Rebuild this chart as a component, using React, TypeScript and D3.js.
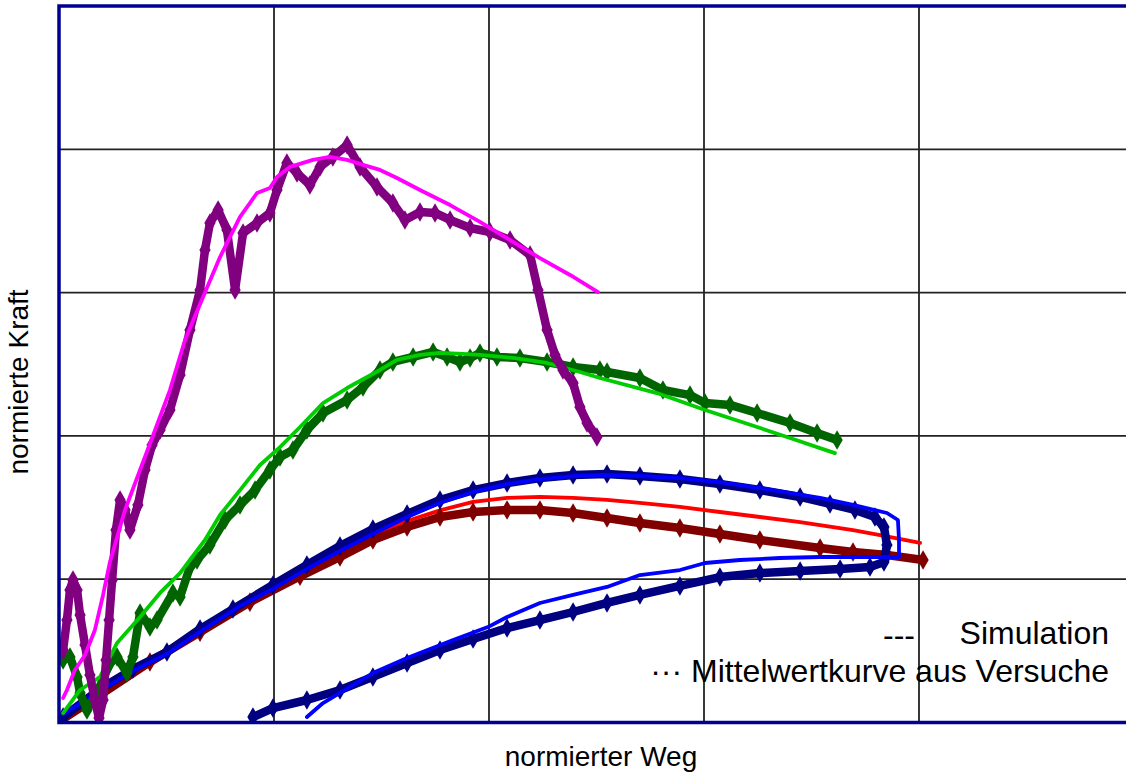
import { useEffect, useRef } from 'react';
import * as d3 from 'd3';

type Pt = [number, number];

// axis extent (normalized units, no tick labels shown)
const xDomain: [number, number] = [0, 5];
const yDomain: [number, number] = [0, 5];
const gridValues = [0, 1, 2, 3, 4, 5];

const xLabel = 'normierter Weg';
const yLabel = 'normierte Kraft';
const legendSim = 'Simulation';
const legendExp = '··· Mittelwertkurve aus Versuche';

// --- Versuch (Mittelwertkurven) ---
const expPurple: Pt[] = [
    [0.019, 0.506], [0.037, 0.715], [0.051, 0.925], [0.065, 0.994], [0.084, 0.925], [0.098, 0.75],
    [0.121, 0.541], [0.144, 0.331], [0.167, 0.157], [0.186, 0.031], [0.205, 0.157], [0.219, 0.436],
    [0.233, 0.715], [0.247, 0.994], [0.265, 1.343], [0.284, 1.553], [0.307, 1.483], [0.33, 1.343],
    [0.367, 1.518], [0.4, 1.762], [0.433, 1.937], [0.47, 2.041], [0.516, 2.181], [0.563, 2.425],
    [0.609, 2.739], [0.656, 3.018], [0.679, 3.297], [0.702, 3.486], [0.74, 3.576], [0.781, 3.437],
    [0.819, 3.018], [0.856, 3.416], [0.921, 3.486], [0.981, 3.556], [1.014, 3.716], [1.06, 3.904],
    [1.107, 3.834], [1.167, 3.751], [1.214, 3.877], [1.274, 3.947], [1.34, 4.03], [1.4, 3.877],
    [1.479, 3.737], [1.553, 3.625], [1.609, 3.507], [1.679, 3.562], [1.749, 3.556], [1.819, 3.507],
    [1.912, 3.451], [2.005, 3.423], [2.098, 3.367], [2.191, 3.262], [2.228, 3.018], [2.27, 2.739],
    [2.307, 2.564], [2.344, 2.46], [2.391, 2.369], [2.423, 2.202], [2.456, 2.09], [2.502, 1.992],
];

const expGreen: Pt[] = [
    [0.019, 0.436], [0.051, 0.457], [0.084, 0.318], [0.098, 0.206], [0.13, 0.087], [0.177, 0.206],
    [0.237, 0.415], [0.27, 0.457], [0.316, 0.345], [0.344, 0.457], [0.377, 0.764], [0.423, 0.666],
    [0.456, 0.715], [0.53, 0.904], [0.563, 0.876], [0.609, 1.085], [0.642, 1.134], [0.702, 1.239],
    [0.772, 1.413], [0.842, 1.518], [0.912, 1.622], [0.981, 1.762], [1.028, 1.853], [1.088, 1.902],
    [1.153, 2.041], [1.228, 2.16], [1.34, 2.25], [1.414, 2.341], [1.493, 2.46], [1.553, 2.516],
    [1.647, 2.551], [1.74, 2.586], [1.805, 2.551], [1.865, 2.516], [1.912, 2.544], [1.958, 2.579],
    [2.037, 2.551], [2.144, 2.544], [2.27, 2.516], [2.391, 2.481], [2.516, 2.46], [2.549, 2.446],
    [2.702, 2.404], [2.809, 2.32], [2.935, 2.285], [3.005, 2.23], [3.121, 2.216], [3.247, 2.16],
    [3.4, 2.09], [3.526, 2.02], [3.619, 1.971],
];

const expDarkRed: Pt[] = [
    [0.019, 0.024], [0.191, 0.192], [0.423, 0.422], [0.656, 0.63], [0.888, 0.84], [1.121, 1.02],
    [1.307, 1.155], [1.46, 1.274], [1.619, 1.364], [1.772, 1.434], [1.926, 1.469], [2.084, 1.483],
    [2.237, 1.483], [2.391, 1.462], [2.549, 1.427], [2.702, 1.392], [2.888, 1.357], [3.074, 1.315],
    [3.26, 1.274], [3.54, 1.218], [3.693, 1.19], [3.851, 1.169], [4.019, 1.134],
];

const expNavy: Pt[] = [
    [0.019, 0.038], [0.191, 0.234], [0.344, 0.373], [0.502, 0.492], [0.656, 0.652], [0.809, 0.792],
    [0.995, 0.96], [1.153, 1.099], [1.307, 1.232], [1.46, 1.35], [1.619, 1.455], [1.772, 1.553],
    [1.926, 1.622], [2.084, 1.671], [2.237, 1.706], [2.391, 1.727], [2.549, 1.734], [2.702, 1.72],
    [2.888, 1.699], [3.074, 1.664], [3.26, 1.622], [3.447, 1.574], [3.586, 1.525], [3.702, 1.483],
    [3.795, 1.434], [3.837, 1.364], [3.851, 1.239], [3.837, 1.12], [3.772, 1.085], [3.633, 1.071],
    [3.447, 1.057], [3.26, 1.043], [3.074, 1.015], [2.888, 0.953], [2.702, 0.89], [2.549, 0.834],
    [2.391, 0.771], [2.237, 0.715], [2.084, 0.659], [1.926, 0.583], [1.772, 0.506], [1.619, 0.415],
    [1.46, 0.318], [1.307, 0.227], [1.153, 0.157], [0.995, 0.101], [0.902, 0.038],
];

// --- Simulation ---
const simMagenta: Pt[] = [
    [0.019, 0.171], [0.037, 0.227], [0.074, 0.366], [0.121, 0.471], [0.167, 0.646], [0.205, 0.89],
    [0.237, 1.12], [0.307, 1.483], [0.377, 1.762], [0.447, 2.041], [0.516, 2.32], [0.586, 2.669],
    [0.67, 2.969], [0.749, 3.248], [0.842, 3.528], [0.921, 3.695], [0.981, 3.73], [1.014, 3.807],
    [1.074, 3.877], [1.181, 3.926], [1.26, 3.947], [1.34, 3.926], [1.414, 3.891], [1.493, 3.856],
    [1.572, 3.8], [1.679, 3.716], [1.819, 3.611], [1.958, 3.493], [2.098, 3.367], [2.237, 3.241],
    [2.377, 3.123], [2.507, 3.004],
];

const simGreen: Pt[] = [
    [0.019, 0.066], [0.098, 0.227], [0.191, 0.318], [0.27, 0.555], [0.377, 0.736], [0.47, 0.904],
    [0.563, 1.043], [0.609, 1.134], [0.679, 1.274], [0.749, 1.448], [0.842, 1.622], [0.935, 1.797],
    [1.028, 1.922], [1.121, 2.062], [1.228, 2.229], [1.34, 2.334], [1.493, 2.46], [1.572, 2.53],
    [1.679, 2.565], [1.772, 2.579], [1.879, 2.572], [1.958, 2.565], [2.112, 2.544], [2.27, 2.509],
    [2.423, 2.446], [2.516, 2.404], [2.781, 2.299], [3.005, 2.181], [3.247, 2.062], [3.4, 1.985],
    [3.609, 1.88],
];

const simRed: Pt[] = [
    [0.019, 0.04], [0.191, 0.225], [0.423, 0.44], [0.656, 0.64], [0.888, 0.85], [1.121, 1.06],
    [1.353, 1.24], [1.586, 1.39], [1.772, 1.48], [1.926, 1.539], [2.084, 1.567], [2.237, 1.574],
    [2.391, 1.567], [2.549, 1.553], [2.702, 1.532], [2.888, 1.504], [3.074, 1.469], [3.26, 1.434],
    [3.447, 1.399], [3.693, 1.343], [3.819, 1.308], [4.005, 1.253],
];

const simBlue: Pt[] = [
    [0.019, 0.059], [0.191, 0.22], [0.344, 0.359], [0.502, 0.478], [0.656, 0.632], [0.842, 0.813],
    [0.995, 0.932], [1.153, 1.071], [1.307, 1.197], [1.46, 1.315], [1.619, 1.434], [1.772, 1.532],
    [1.926, 1.609], [2.084, 1.664], [2.237, 1.699], [2.391, 1.72], [2.549, 1.727], [2.702, 1.72],
    [2.888, 1.706], [3.074, 1.678], [3.26, 1.636], [3.54, 1.567], [3.693, 1.518], [3.851, 1.462],
    [3.902, 1.413], [3.907, 1.274], [3.907, 1.155], [3.851, 1.155], [3.693, 1.155], [3.54, 1.155],
    [3.353, 1.148], [3.167, 1.134], [3.005, 1.113], [2.888, 1.064], [2.702, 1.029], [2.549, 0.946],
    [2.391, 0.89], [2.237, 0.834], [2.084, 0.736], [1.995, 0.666], [1.833, 0.576], [1.619, 0.45],
    [1.46, 0.345], [1.307, 0.206], [1.228, 0.136], [1.153, 0.038],
];

// drawing order: back to front
const series = [
    { data: simRed, color: '#FF0000', exp: false },
    { data: expDarkRed, color: '#800000', exp: true },
    { data: expNavy, color: '#000080', exp: true },
    { data: simBlue, color: '#0000FF', exp: false },
    { data: expGreen, color: '#006400', exp: true },
    { data: simGreen, color: '#00CC00', exp: false },
    { data: expPurple, color: '#800080', exp: true },
    { data: simMagenta, color: '#FF00FF', exp: false },
];

const W = 1126;
const H = 773;
const FONT = "'Liberation Sans', Arial, sans-serif";

export default function App() {
    const svgRef = useRef<SVGSVGElement>(null);

    useEffect(() => {
        if (!svgRef.current) return;
        const svg = d3.select(svgRef.current);
        svg.selectAll('*').remove();

        const x = d3.scaleLinear().domain(xDomain).range([59, 1134]);
        const y = d3.scaleLinear().domain(yDomain).range([722.5, 6]);

        svg.append('defs').append('clipPath').attr('id', 'plot-clip')
            .append('rect')
            .attr('x', x(0)).attr('y', y(5))
            .attr('width', x(5) - x(0)).attr('height', y(0) - y(5));

        // grid
        const grid = svg.append('g');
        gridValues.slice(1, -1).forEach(v => {
            grid.append('line')
                .attr('x1', x(v)).attr('x2', x(v))
                .attr('y1', y(0)).attr('y2', y(5))
                .attr('stroke', '#222').attr('stroke-width', 1.8);
            grid.append('line')
                .attr('x1', x(0)).attr('x2', x(5))
                .attr('y1', y(v)).attr('y2', y(v))
                .attr('stroke', '#222').attr('stroke-width', 1.8);
        });

        const line = d3.line<Pt>().x(d => x(d[0])).y(d => y(d[1]));
        const plot = svg.append('g').attr('clip-path', 'url(#plot-clip)');

        series.forEach(s => {
            plot.append('path')
                .datum(s.data)
                .attr('d', line)
                .attr('fill', 'none')
                .attr('stroke', s.color)
                .attr('stroke-width', s.exp ? 8.5 : 3.8)
                .attr('stroke-linejoin', 'round')
                .attr('stroke-linecap', 'round');
            if (s.exp) {
                plot.append('g')
                    .selectAll('path')
                    .data(s.data)
                    .join('path')
                    .attr('transform', d => `translate(${x(d[0])},${y(d[1])})`)
                    .attr('d', d3.symbol(d3.symbolDiamond, 110)())
                    .attr('fill', s.color);
            }
        });

        // frame
        svg.append('rect')
            .attr('x', x(0)).attr('y', y(5))
            .attr('width', x(5) - x(0)).attr('height', y(0) - y(5))
            .attr('fill', 'none')
            .attr('stroke', '#000090')
            .attr('stroke-width', 3.5);

        // axis titles
        svg.append('text')
            .attr('x', 601).attr('y', 766)
            .attr('text-anchor', 'middle')
            .attr('font-family', FONT).attr('font-size', 28)
            .text(xLabel);

        svg.append('text')
            .attr('transform', 'translate(28,382) rotate(-90)')
            .attr('text-anchor', 'middle')
            .attr('font-family', FONT).attr('font-size', 28)
            .text(yLabel);

        // legend
        svg.append('text')
            .attr('x', 883).attr('y', 646)
            .attr('font-family', FONT).attr('font-size', 32)
            .text('---');
        svg.append('text')
            .attr('x', 1109).attr('y', 644)
            .attr('text-anchor', 'end')
            .attr('font-family', FONT).attr('font-size', 32)
            .text(legendSim);
        svg.append('text')
            .attr('x', 1109).attr('y', 682)
            .attr('text-anchor', 'end')
            .attr('font-family', FONT).attr('font-size', 32)
            .text(legendExp);
    }, []);

    return (
        <svg ref={svgRef} width={W} height={H}
            style={{ position: 'absolute', left: 0, top: 0, background: '#fff' }} />
    );
}
